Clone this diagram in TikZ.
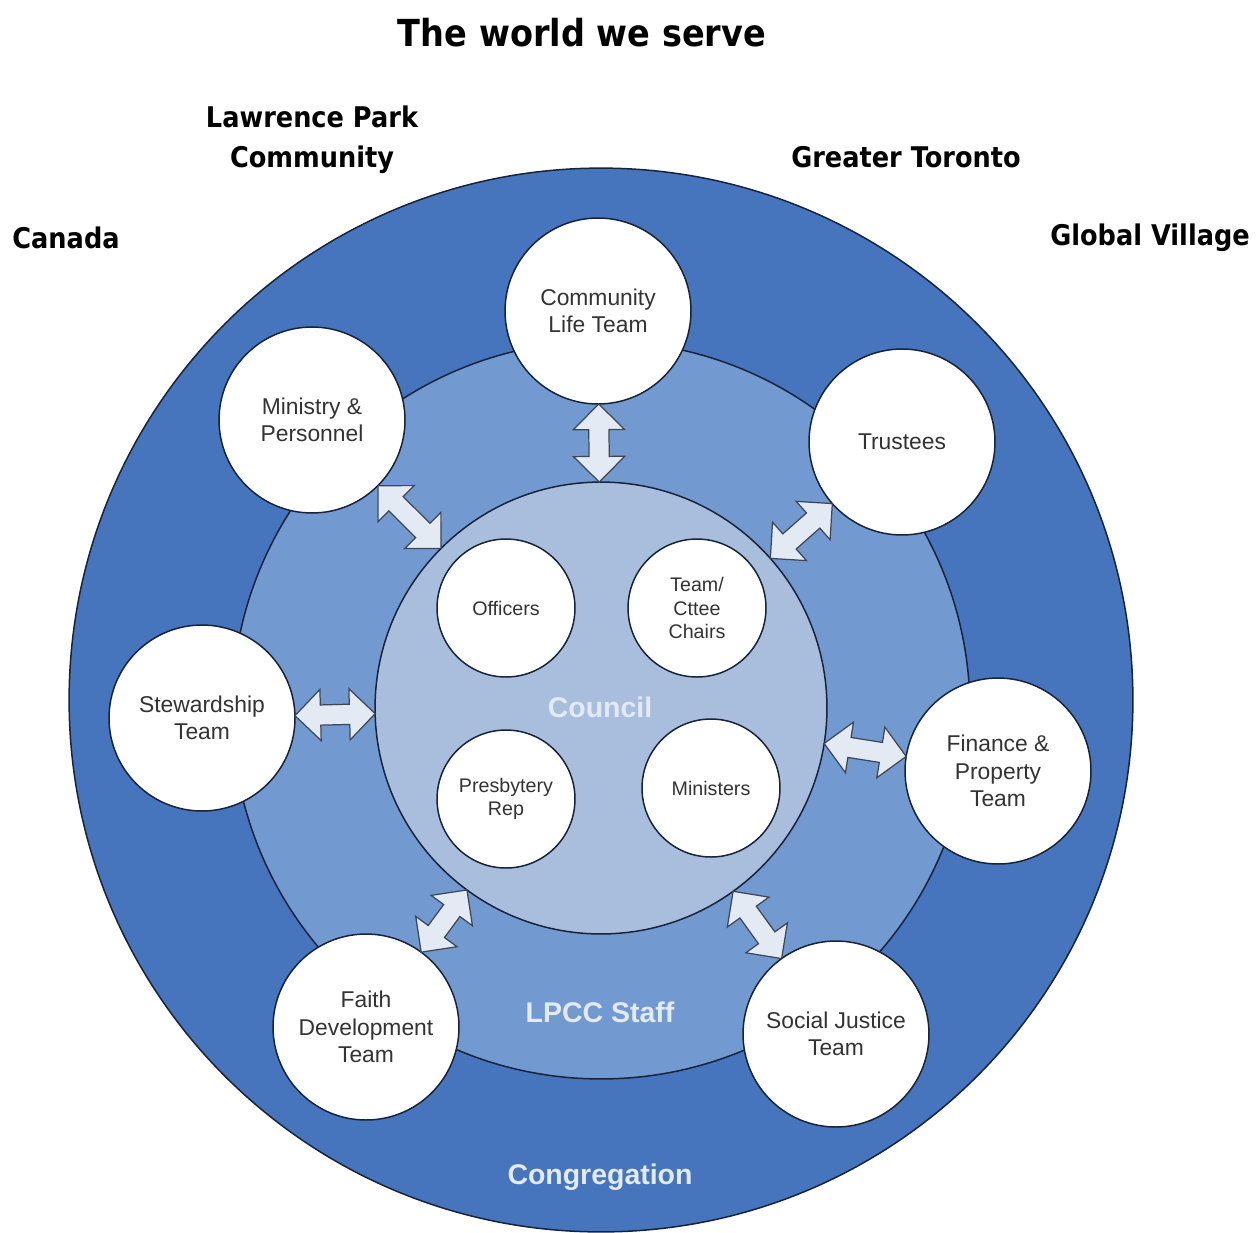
\documentclass[tikz,border=0pt]{standalone}
\usepackage{fontspec}
\setmainfont{Liberation Sans}
\newfontfamily\headfont{DejaVu Sans}[FakeStretch=0.9]
\usetikzlibrary{calc}
\usetikzlibrary{shapes.arrows}

\definecolor{congblue}{HTML}{4675BD}
\definecolor{staffblue}{HTML}{7399D1}
\definecolor{councilblue}{HTML}{A9BEDD}
\definecolor{edgeblue}{HTML}{17233A}
\definecolor{arrowfill}{HTML}{E3EAF4}
\definecolor{arrowline}{HTML}{3B4656}
\definecolor{labelwhite}{HTML}{E2EAF6}

\tikzset{
  ring/.style={circle, draw=edgeblue, line width=0.85pt, inner sep=0pt},
  team/.style={ring, fill=white, minimum size=3.72cm, align=center, text=black!80,
    font=\fontsize{13}{15.6}\selectfont},
  member/.style={team, minimum size=2.76cm, font=\fontsize{11.2}{13.4}\selectfont},
  ringlabel/.style={text=labelwhite, font=\bfseries\fontsize{16.2}{19}\selectfont},
  world/.style={align=center, font=\headfont\bfseries\fontsize{16.2}{22.7}\selectfont},
  linkarrow/.style={double arrow, draw=arrowline, fill=arrowfill, line width=0.7pt,
    inner xsep=0pt, inner ysep=0.19cm, minimum width=1cm, double arrow head extend=0.31cm,
    double arrow tip angle=90}
}

% fat two-way arrow between a team circle and the council
\newcommand\teamlink[1]{%
  \path let \p1=($(#1)!1.86cm!(council)$), \p2=($(council)!4.52cm!(#1)$),
    \n1={atan2(\y2-\y1,\x2-\x1)}, \n2={veclen(\x2-\x1,\y2-\y1)}
    in node[linkarrow, minimum height=\n2, rotate=\n1] (#1-link) at ($(\p1)!0.5!(\p2)$) {};}

\begin{document}
\begin{tikzpicture}[x=0.02cm, y=-0.02cm]
\fill[white] (0,0) rectangle (1257,1232);
\useasboundingbox (0,0) rectangle (1257,1232);

% the three rings
\node[ring, fill=congblue, minimum size=21.28cm] (congregation) at (601,700) {};
\node[ring, fill=staffblue, minimum size=14.76cm] (staff) at (601,710) {};
\node[ring, fill=councilblue, minimum size=9.04cm] (council) at (601,708) {};

\node[ringlabel] (council-label) at (600,707) {Council};
\node[ringlabel] (staff-label) at (600,1012) {LPCC Staff};
\node[ringlabel] (congregation-label) at (600,1177) {Congregation};

% outside world
\node[world, font=\headfont\bfseries\fontsize{21.2}{25}\selectfont] (title) at (582,33) {The world we serve};
\node[world] (lawrence) at (312,140) {Lawrence Park\\Community};
\node[world] (toronto) at (906,157) {Greater Toronto};
\node[world] (canada) at (66,238) {Canada};
\node[world] (global) at (1150,238) {Global Village};

% teams
\node[team] (community) at (598,311) {Community\\Life Team};
\node[team] (ministry) at (312,420) {Ministry \&\\Personnel};
\node[team] (trustees) at (902,442) {Trustees};
\node[team] (stewardship) at (202,718) {Stewardship\\Team};
\node[team] (finance) at (998,771) {Finance \&\\Property\\Team};
\node[team] (faith) at (366,1027) {Faith\\Development\\Team};
\node[team] (justice) at (836,1034) {Social Justice\\Team};

% council members
\node[member] (officers) at (506,608) {Officers};
\node[member] (chairs) at (697,608) {Team/\\Cttee\\Chairs};
\node[member] (presbytery) at (506,799) {Presbytery\\Rep};
\node[member] (ministers) at (711,788) {Ministers};

\foreach \t in {community,ministry,trustees,stewardship,finance,faith,justice}
  {\teamlink{\t}}
\end{tikzpicture}
\end{document}
